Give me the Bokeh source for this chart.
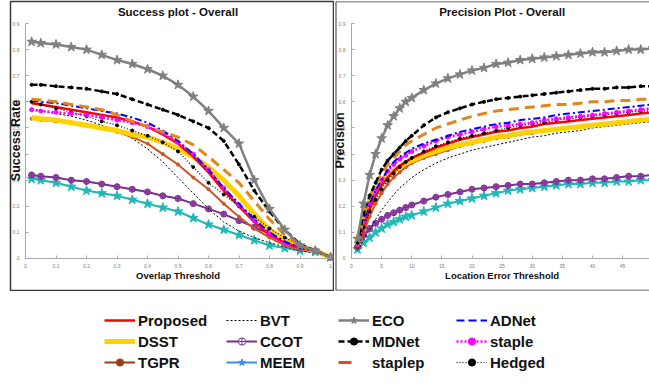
import math
from bokeh.plotting import figure
from bokeh.models import (ColumnDataSource, Range1d, SingleIntervalTicker, Legend,
                          LegendItem, Label, Span)
from bokeh.layouts import column, row
from bokeh.embed import file_html
from bokeh.resources import INLINE

# ---------------- data ----------------
overlap_thr = [0.02, 0.05, 0.1, 0.15, 0.2, 0.25, 0.3, 0.35, 0.4, 0.45, 0.5,
               0.55, 0.6, 0.65, 0.7, 0.75, 0.8, 0.85, 0.9, 0.95, 1.0]
location_thr = [1, 2, 3, 4, 5, 6, 7, 8, 9, 10, 12, 14, 16, 18, 20, 22, 24, 26,
                28, 30, 32, 34, 36, 38, 40, 42, 44, 46, 48, 50]

succ_proposed = [0.595, 0.59, 0.58, 0.57, 0.56, 0.55, 0.54, 0.525, 0.505, 0.475, 0.44, 0.39, 0.33, 0.26, 0.20, 0.14, 0.09, 0.06, 0.04, 0.03, 0.005]
succ_dsst = [0.54, 0.535, 0.53, 0.52, 0.51, 0.50, 0.49, 0.475, 0.465, 0.445, 0.42, 0.39, 0.35, 0.30, 0.24, 0.17, 0.11, 0.07, 0.045, 0.03, 0.005]
succ_tgpr = [0.535, 0.53, 0.525, 0.52, 0.51, 0.50, 0.485, 0.465, 0.44, 0.40, 0.36, 0.31, 0.265, 0.21, 0.16, 0.115, 0.08, 0.05, 0.035, 0.025, 0.005]
succ_bvt = [0.57, 0.565, 0.555, 0.545, 0.53, 0.51, 0.49, 0.46, 0.42, 0.37, 0.31, 0.25, 0.19, 0.14, 0.105, 0.08, 0.06, 0.045, 0.03, 0.02, 0.005]
succ_ccot = [0.32, 0.315, 0.31, 0.30, 0.295, 0.285, 0.275, 0.265, 0.255, 0.24, 0.23, 0.21, 0.19, 0.17, 0.145, 0.12, 0.095, 0.07, 0.045, 0.03, 0.005]
succ_meem = [0.305, 0.30, 0.29, 0.275, 0.26, 0.25, 0.24, 0.225, 0.21, 0.195, 0.18, 0.155, 0.13, 0.11, 0.09, 0.07, 0.05, 0.04, 0.03, 0.025, 0.005]
succ_eco = [0.83, 0.825, 0.82, 0.81, 0.80, 0.78, 0.76, 0.745, 0.725, 0.70, 0.665, 0.62, 0.565, 0.50, 0.44, 0.30, 0.19, 0.11, 0.05, 0.03, 0.005]
succ_mdnet = [0.665, 0.665, 0.66, 0.655, 0.65, 0.64, 0.63, 0.61, 0.59, 0.57, 0.55, 0.525, 0.50, 0.45, 0.36, 0.26, 0.18, 0.11, 0.055, 0.03, 0.005]
succ_staplep = [0.61, 0.607, 0.60, 0.59, 0.58, 0.57, 0.55, 0.525, 0.505, 0.485, 0.465, 0.435, 0.39, 0.34, 0.29, 0.22, 0.15, 0.09, 0.05, 0.03, 0.005]
succ_adnet = [0.605, 0.60, 0.595, 0.585, 0.575, 0.565, 0.555, 0.54, 0.52, 0.49, 0.45, 0.40, 0.34, 0.27, 0.21, 0.15, 0.10, 0.065, 0.04, 0.03, 0.005]
succ_staple = [0.57, 0.565, 0.56, 0.555, 0.55, 0.54, 0.53, 0.52, 0.505, 0.48, 0.445, 0.40, 0.34, 0.27, 0.205, 0.145, 0.095, 0.06, 0.04, 0.03, 0.005]
succ_hedged = [0.60, 0.59, 0.575, 0.56, 0.545, 0.525, 0.51, 0.49, 0.47, 0.445, 0.41, 0.35, 0.29, 0.245, 0.20, 0.16, 0.115, 0.08, 0.05, 0.03, 0.005]

prec_proposed = [0.04, 0.12, 0.19, 0.24, 0.28, 0.31, 0.335, 0.355, 0.37, 0.385, 0.405, 0.425, 0.44, 0.455, 0.465, 0.475, 0.485, 0.49, 0.50, 0.505, 0.515, 0.52, 0.525, 0.53, 0.535, 0.54, 0.545, 0.55, 0.555, 0.56]
prec_dsst = [0.07, 0.16, 0.22, 0.26, 0.29, 0.315, 0.335, 0.35, 0.365, 0.375, 0.395, 0.41, 0.425, 0.435, 0.445, 0.455, 0.465, 0.47, 0.48, 0.485, 0.49, 0.495, 0.50, 0.505, 0.51, 0.515, 0.52, 0.525, 0.53, 0.535]
prec_tgpr = [0.04, 0.10, 0.16, 0.21, 0.25, 0.285, 0.31, 0.33, 0.35, 0.365, 0.385, 0.40, 0.415, 0.43, 0.44, 0.45, 0.46, 0.465, 0.475, 0.48, 0.49, 0.495, 0.50, 0.505, 0.51, 0.515, 0.52, 0.525, 0.53, 0.535]
prec_bvt = [0.03, 0.07, 0.11, 0.15, 0.185, 0.215, 0.245, 0.27, 0.29, 0.31, 0.34, 0.365, 0.385, 0.40, 0.415, 0.425, 0.435, 0.445, 0.455, 0.465, 0.47, 0.48, 0.485, 0.49, 0.50, 0.505, 0.51, 0.515, 0.52, 0.525]
prec_ccot = [0.045, 0.09, 0.115, 0.135, 0.15, 0.165, 0.175, 0.185, 0.195, 0.205, 0.22, 0.235, 0.245, 0.255, 0.265, 0.27, 0.275, 0.28, 0.285, 0.285, 0.29, 0.295, 0.30, 0.30, 0.305, 0.305, 0.31, 0.315, 0.315, 0.32]
prec_meem = [0.035, 0.06, 0.08, 0.10, 0.115, 0.13, 0.14, 0.15, 0.16, 0.165, 0.18, 0.195, 0.21, 0.22, 0.23, 0.24, 0.25, 0.26, 0.265, 0.27, 0.275, 0.28, 0.285, 0.285, 0.29, 0.29, 0.295, 0.295, 0.30, 0.30]
prec_eco = [0.075, 0.21, 0.32, 0.40, 0.46, 0.51, 0.545, 0.575, 0.60, 0.615, 0.645, 0.67, 0.69, 0.705, 0.72, 0.73, 0.745, 0.75, 0.76, 0.765, 0.77, 0.775, 0.78, 0.785, 0.79, 0.79, 0.795, 0.80, 0.80, 0.805]
prec_mdnet = [0.06, 0.17, 0.24, 0.29, 0.34, 0.375, 0.40, 0.425, 0.45, 0.47, 0.51, 0.54, 0.56, 0.575, 0.59, 0.60, 0.61, 0.615, 0.62, 0.625, 0.63, 0.635, 0.64, 0.645, 0.65, 0.65, 0.655, 0.655, 0.66, 0.66]
prec_staplep = [0.05, 0.16, 0.235, 0.285, 0.325, 0.36, 0.385, 0.41, 0.435, 0.45, 0.475, 0.50, 0.515, 0.53, 0.545, 0.555, 0.565, 0.57, 0.575, 0.58, 0.585, 0.59, 0.59, 0.595, 0.60, 0.60, 0.605, 0.605, 0.61, 0.61]
prec_adnet = [0.05, 0.14, 0.21, 0.26, 0.30, 0.34, 0.37, 0.39, 0.405, 0.42, 0.44, 0.455, 0.47, 0.485, 0.495, 0.505, 0.515, 0.52, 0.53, 0.535, 0.54, 0.55, 0.555, 0.56, 0.565, 0.57, 0.575, 0.58, 0.585, 0.59]
prec_staple = [0.05, 0.14, 0.21, 0.26, 0.30, 0.335, 0.36, 0.38, 0.395, 0.41, 0.43, 0.45, 0.465, 0.475, 0.485, 0.495, 0.505, 0.51, 0.515, 0.52, 0.53, 0.535, 0.54, 0.545, 0.55, 0.555, 0.56, 0.565, 0.57, 0.575]
prec_hedged = [0.045, 0.12, 0.18, 0.225, 0.265, 0.30, 0.325, 0.35, 0.37, 0.385, 0.41, 0.43, 0.445, 0.46, 0.47, 0.48, 0.49, 0.50, 0.51, 0.515, 0.52, 0.53, 0.535, 0.54, 0.545, 0.55, 0.555, 0.56, 0.565, 0.565]

legend_columns = [["Proposed", "DSST", "TGPR"], ["BVT", "CCOT", "MEEM"],
                  ["ECO", "MDNet", "staplep"], ["ADNet", "staple", "Hedged"]]

# ---------------- styles ----------------
STY = {
    "Proposed": dict(color="#ff0000", width=2.5, dash="solid"),
    "DSST": dict(color="#ffd200", width=5, dash="solid"),
    "TGPR": dict(color="#cc5522", width=2, dash="solid", marker="circle", msize=3, leg_color="#9a3b12"),
    "BVT": dict(color="#000000", width=1, dash="2 2"),
    "CCOT": dict(color="#7d2e8f", width=2, dash="solid", marker="circle_cross", msize=6, mfill="#9b4fb0", leg_fill="#ffffff", leg_msize=9),
    "MEEM": dict(color="#1fb8b8", width=2, dash="solid", marker="star", msize=10, leg_color="#3a8ef5"),
    "ECO": dict(color="#808080", width=2.5, dash="solid", marker="star", msize=10),
    "MDNet": dict(color="#000000", width=2.5, dash="6 3", marker="circle", msize=3),
    "staplep": dict(color="#e0861b", width=3, dash="10 6", leg_color="#d95319", leg_dash="13 40"),
    "ADNet": dict(color="#0000ff", width=2, dash="7 3 2 3", leg_dash="8 4"),
    "staple": dict(color="#ff00ff", width=2.5, dash="2 2", marker="circle", msize=4),
    "Hedged": dict(color="#000000", width=1.2, dash="1 2", marker="circle", msize=3),
}
draw_order = ["MEEM", "CCOT", "BVT", "TGPR", "DSST", "Proposed", "Hedged",
              "staple", "ADNet", "staplep", "MDNet", "ECO"]
succ = {"Proposed": succ_proposed, "DSST": succ_dsst, "TGPR": succ_tgpr, "BVT": succ_bvt,
        "CCOT": succ_ccot, "MEEM": succ_meem, "ECO": succ_eco, "MDNet": succ_mdnet,
        "staplep": succ_staplep, "ADNet": succ_adnet, "staple": succ_staple, "Hedged": succ_hedged}
prec = {"Proposed": prec_proposed, "DSST": prec_dsst, "TGPR": prec_tgpr, "BVT": prec_bvt,
        "CCOT": prec_ccot, "MEEM": prec_meem, "ECO": prec_eco, "MDNet": prec_mdnet,
        "staplep": prec_staplep, "ADNet": prec_adnet, "staple": prec_staple, "Hedged": prec_hedged}

FONT = "Liberation Sans"
BORDER = "#3a3a3a"


def draw_series(p, name, xs, ys, legend=False):
    s = STY[name]
    src = ColumnDataSource(dict(x=xs, y=ys))
    color = s.get("leg_color", s["color"]) if legend else s["color"]
    dash = s.get("leg_dash", s["dash"]) if legend else s["dash"]
    rs = [p.line("x", "y", source=src, line_color=color, line_width=s["width"], line_dash=dash)]
    if "marker" in s:
        fill = s.get("leg_fill", s.get("mfill", color)) if legend else s.get("mfill", color)
        size = s.get("leg_msize", s["msize"]) if legend else s["msize"]
        rs.append(p.scatter("x", "y", source=src, marker=s["marker"], size=size,
                            line_color=color, fill_color=fill, line_width=1))
    return rs


def setup_axes(p, x_end, x_interval, x_overrides):
    p.xaxis.fixed_location = 0
    p.yaxis.fixed_location = 0
    p.xaxis.bounds = (0, x_end)
    p.yaxis.bounds = (0, 0.9)
    p.xaxis.ticker = SingleIntervalTicker(interval=x_interval)
    p.yaxis.ticker = SingleIntervalTicker(interval=0.1)
    p.xaxis.major_label_overrides = x_overrides
    p.yaxis.major_label_overrides = {0: "0"}
    for ax in (p.xaxis[0], p.yaxis[0]):
        ax.axis_line_color = "#a8a8a8"
        ax.major_tick_line_color = "#a8a8a8"
        ax.major_tick_in = 3
        ax.major_tick_out = 0
        ax.minor_tick_line_color = None
        ax.major_label_text_font_size = "5px"
        ax.major_label_text_color = "#808080"
        ax.major_label_standoff = 2
    p.grid.visible = False


def add_text(p, text, x, y, size, angle=0.0):
    p.add_layout(Label(x=x, y=y, text=text, text_align="center", text_baseline="middle",
                       angle=angle, text_font=FONT, text_font_size=size,
                       text_font_style="bold", text_color="#111111"))


TOP_H = 291
# y mapping: 0 -> 258px, 0.9 -> 23px ; frame from 1px to 290px
y_lo, y_hi = -0.1226, 0.9843
title_y = 0.944
xlabel_y = -0.0651
ylabel_y = 0.452

# ---------------- left: success plot ----------------
p1 = figure(width=334, height=TOP_H, x_range=Range1d(-0.0492, 1.0098), y_range=Range1d(y_lo, y_hi),
            output_backend="svg", toolbar_location=None,
            min_border_left=10, min_border_right=1, min_border_top=1, min_border_bottom=1)
for n in draw_order:
    draw_series(p1, n, overlap_thr, succ[n])
setup_axes(p1, 1.0, 0.1, {0: "0", 1: "1"})
p1.outline_line_color = BORDER
p1.outline_line_width = 1.5
add_text(p1, "Success plot - Overall", 0.5, title_y, "11.5px")
add_text(p1, "Overlap Threshold", 0.5, xlabel_y, "9.5px")
add_text(p1, "Success Rate", -0.031, ylabel_y, "12.5px", angle=math.pi / 2)

# ---------------- right: precision plot ----------------
x2_lo, x2_hi = -2.656, 49.46
p2 = figure(width=315, height=TOP_H, x_range=Range1d(x2_lo, x2_hi), y_range=Range1d(y_lo, y_hi),
            output_backend="svg", toolbar_location=None,
            min_border_left=1, min_border_right=0, min_border_top=1, min_border_bottom=1)
for n in draw_order:
    draw_series(p2, n, location_thr, prec[n])
setup_axes(p2, x2_hi, 5, {0: "0"})
p2.outline_line_color = None
p2.add_layout(Span(location=x2_lo, dimension="height", line_color=BORDER, line_width=2))
p2.add_layout(Span(location=y_lo, dimension="width", line_color=BORDER, line_width=1.5))
p2.add_layout(Span(location=y_hi, dimension="width", line_color=BORDER, line_width=1.5))
add_text(p2, "Precision Plot - Overall", 25, title_y, "11.5px")
add_text(p2, "Location Error Threshold", 25, xlabel_y, "9.5px")
add_text(p2, "Precision", -1.9, ylabel_y, "12.5px", angle=math.pi / 2)

# ---------------- legend ----------------
nan = float("nan")
p3 = figure(width=649, height=383 - TOP_H, x_range=Range1d(0, 1), y_range=Range1d(0, 1),
            x_axis_type=None, y_axis_type=None, output_backend="svg", toolbar_location=None,
            min_border_left=0, min_border_right=0, min_border_top=0, min_border_bottom=0)
p3.outline_line_color = None
p3.grid.visible = False
col_x = [104, 226, 338, 456]
for cx, names in zip(col_x, legend_columns):
    items = [LegendItem(label=n, renderers=draw_series(p3, n, [nan], [nan], legend=True)) for n in names]
    lg = Legend(items=items, location=(cx, 12), orientation="vertical",
                glyph_width=31, glyph_height=18, label_height=18, spacing=3,
                padding=0, margin=0, label_standoff=3,
                border_line_alpha=0, background_fill_alpha=0,
                label_text_font=FONT, label_text_font_size="15px",
                label_text_font_style="bold", label_text_color="#111111")
    p3.add_layout(lg)

layout = column(row(p1, p2), p3)
open("out.html", "w").write(file_html(layout, INLINE))
